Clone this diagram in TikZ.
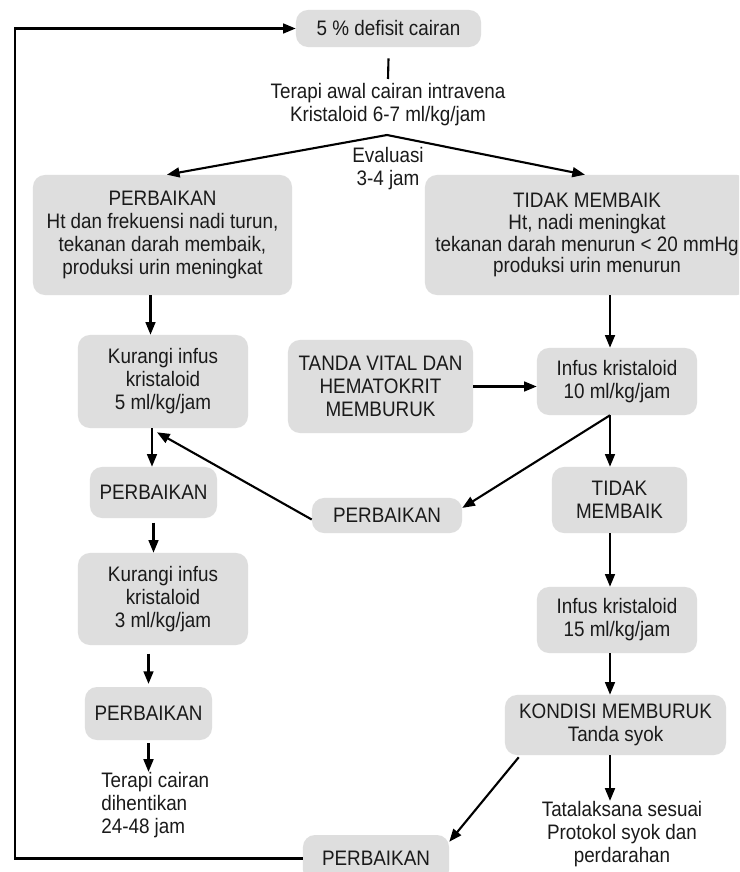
\documentclass[tikz,border=0pt]{standalone}
\usepackage{fontspec}
\setmainfont{Liberation Sans}[FakeStretch=0.9]
\usetikzlibrary{arrows.meta}
\definecolor{boxc}{HTML}{DEDEDE}
\definecolor{textc}{HTML}{1A1A1A}
\begin{document}
\begin{tikzpicture}[x=0.025cm,y=-0.025cm,
  txt/.style={font=\fontsize{14.9pt}{16.4pt}\selectfont,text=textc,align=center,inner sep=0pt},
  box/.style={txt,fill=boxc,rounded corners=0.3cm},
  conn/.style={line width=1.5pt,draw=black},
  arr/.style={conn,-{Triangle[length=9pt,width=7pt]}}]
\clip (0,0) rectangle (739,872);
\fill[white] (0,0) rectangle (739,872);

\node[box,minimum width=4.625cm,minimum height=0.925cm] (A) at (388.5,28.5) {5 \% defisit cairan};
\node[txt] (ter) at (388,105) {Terapi awal cairan intravena\\Kristaloid 6-7 ml/kg/jam};
\coordinate (tl) at (388,79);
\coordinate (apex) at (387,135);
\node[txt] (ev) at (388,168.5) {Evaluasi\\3-4 jam};
\node[box,minimum width=6.475cm,minimum height=3cm] (P1) at (162.5,235) {PERBAIKAN\\Ht dan frekuensi nadi turun,\\tekanan darah membaik,\\produksi urin meningkat};
\node[box,minimum width=8.1cm,minimum height=3cm] (T1) at (587,235) {};
\node[txt,font=\fontsize{14.9pt}{15.6pt}\selectfont] (T1t) at (587,235) {TIDAK MEMBAIK\\Ht, nadi meningkat\\tekanan darah menurun < 20 mmHg\\produksi urin menurun};
\node[box,minimum width=4.25cm,minimum height=2.325cm] (K5) at (163,381.5) {Kurangi infus\\kristaloid\\5 ml/kg/jam};
\node[box,minimum width=4.625cm,minimum height=2.325cm] (TV) at (380.5,386.5) {TANDA VITAL DAN\\HEMATOKRIT\\MEMBURUK};
\node[box,minimum width=4cm,minimum height=1.675cm] (I10) at (617,381.5) {Infus kristaloid\\10 ml/kg/jam};
\node[box,minimum width=3.375cm,minimum height=1.65cm] (TM2) at (619.5,500) {TIDAK\\MEMBAIK};
\node[box,minimum width=3.75cm,minimum height=0.875cm] (PM) at (387,515.5) {PERBAIKAN};
\node[box,minimum width=3.175cm,minimum height=1.275cm] (P2) at (153.5,492.5) {PERBAIKAN};
\node[box,minimum width=4.25cm,minimum height=2.3cm] (K3) at (163,599) {Kurangi infus\\kristaloid\\3 ml/kg/jam};
\node[box,minimum width=3.175cm,minimum height=1.325cm] (P3) at (148.5,713.5) {PERBAIKAN};
\node[txt,anchor=west,align=left] (stop) at (101,805) {Terapi cairan\\dihentikan\\24-48 jam};
\node[box,minimum width=4cm,minimum height=1.65cm] (I15) at (617,620) {Infus kristaloid\\15 ml/kg/jam};
\node[box,minimum width=5.525cm,minimum height=1.5cm] (KM) at (615.5,725) {KONDISI MEMBURUK\\Tanda syok};
\node[txt] (tat) at (622,834) {Tatalaksana sesuai\\Protokol syok dan\\perdarahan};
\node[box,minimum width=3.65cm,minimum height=1.175cm] (PB) at (376,858.5) {PERBAIKAN};

\draw[arr] (PB.west) -- ++(-288,0) |- (A.west);
\draw[conn] ([yshift=-0.275cm]A.south) -- (tl);
\draw[arr] (apex) -- ([xshift=0.11cm]P1.north);
\draw[arr] (apex) -- ([xshift=-0.05cm]T1.north);
\coordinate (p1s) at ([xshift=-0.3cm]P1.south);
\draw[arr] (p1s) -- (p1s |- K5.north);
\coordinate (k5s) at ([xshift=-0.275cm]K5.south);
\draw[arr] (k5s) -- (k5s |- P2.north);
\draw[arr] ([yshift=-0.1cm]PM.west) -- ([xshift=-0.15cm,yshift=-0.1cm]K5.south);
\draw[arr,shorten <=3pt] (P2.south) -- (P2.south |- K3.north);
\draw[arr,shorten <=6pt,shorten >=2pt] (P3.north |- K3.south) -- (P3.north);
\draw[arr,shorten <=2pt] (P3.south) -- (P3.south |- stop.north);
\coordinate (t1s) at ([xshift=0.575cm]T1.south);
\draw[arr] (t1s) -- (t1s |- I10.north);
\draw[arr] (TV.east) -- (TV.east -| I10.west);
\coordinate (i10s) at ([xshift=-0.175cm]I10.south);
\draw[arr] (i10s) -- (i10s |- TM2.north);
\draw[arr] (i10s) -- ([yshift=0.19cm]PM.east);
\draw[arr] (i10s |- TM2.south) -- (i10s |- I15.north);
\draw[arr] (i10s |- I15.south) -- (i10s |- KM.north);
\draw[arr] (i10s |- KM.south) -- (i10s |- tat.north);
\draw[arr] ([xshift=0.35cm,yshift=-0.05cm]KM.south west) -- ([yshift=-0.175cm]PB.north east);
\end{tikzpicture}
\end{document}
